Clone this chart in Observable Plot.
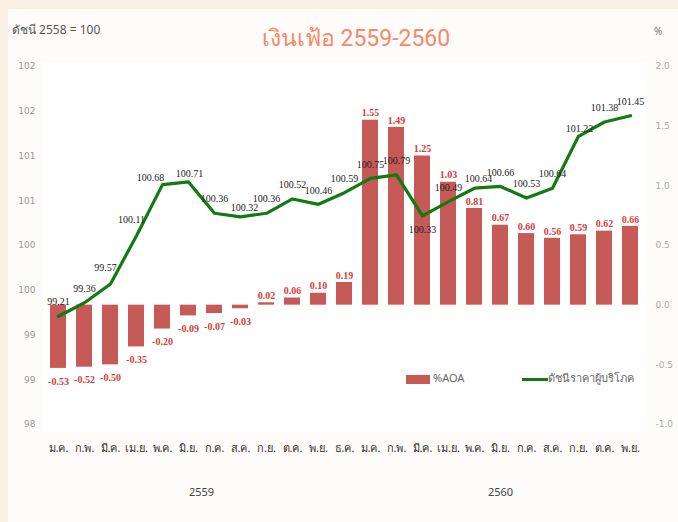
<!DOCTYPE html>
<html>
<head>
<meta charset="utf-8">
<script src="https://cdn.jsdelivr.net/npm/d3@7"></script>
<script src="https://cdn.jsdelivr.net/npm/@observablehq/plot@0.6"></script>
<style>
  html, body { margin: 0; padding: 0; background: #f8efe2; }
  #wrap { position: relative; width: 678px; height: 522px; overflow: hidden; }
  #panel { position: absolute; left: 8px; top: 9px; width: 670px; height: 513px; background: #fdfcfa; }
  #inner { position: absolute; left: 43px; top: 62px; width: 603px; height: 370px; background: #ffffff; }
  #chart { position: absolute; left: 0; top: 0; }
  .ov { position: absolute; font-family: "Noto Sans", "DejaVu Sans", sans-serif; color: #555; white-space: nowrap; }
  #title { left: 0; width: 712px; top: 20px; text-align: center; font-family: "Liberation Sans Narrow", "Roboto", sans-serif; font-size: 23px; font-weight: normal; color: #f4896b; }
  #unitL { left: 12px; top: 20px; font-size: 12px; color: #555; }
  #unitR { left: 654px; top: 24px; font-size: 10px; color: #777; }
  #legend { left: 406px; top: 369px; font-size: 11px; color: #666; }
  .sw { display: inline-block; vertical-align: middle; }
</style>
</head>
<body>
<div id="wrap">
  <div id="panel"></div>
  <div id="inner"></div>
  <div id="chart"></div>
  <div class="ov" id="title">เงินเฟ้อ 2559-2560</div>
  <div class="ov" id="unitL">ดัชนี 2558 = 100</div>
  <div class="ov" id="unitR">%</div>
  <div class="ov" id="legend">
    <span class="sw" style="width:24px;height:9px;background:#c55a57;"></span><span style="margin-left:3px;">%AOA</span>
    <span class="sw" style="width:26px;height:3px;background:#137a13;margin-left:55px;"></span><span>ดัชนีราคาผู้บริโภค</span>
  </div>
</div>
<script>
// ---- data ----
const months2559 = ["ม.ค.", "ก.พ.", "มี.ค.", "เม.ย.", "พ.ค.", "มิ.ย.", "ก.ค.", "ส.ค.", "ก.ย.", "ต.ค.", "พ.ย.", "ธ.ค."];
const months2560 = ["ม.ค.", "ก.พ.", "มี.ค.", "เม.ย.", "พ.ค.", "มิ.ย.", "ก.ค.", "ส.ค.", "ก.ย.", "ต.ค.", "พ.ย."];
const years = ["2559", "2560"];
const cpiIndex = [99.21, 99.36, 99.57, 100.11, 100.68, 100.71, 100.36, 100.32, 100.36, 100.52, 100.46, 100.59,
                  100.75, 100.79, 100.33, 100.49, 100.64, 100.66, 100.53, 100.64, 101.22, 101.38, 101.45];
const yoy = [-0.53, -0.52, -0.50, -0.35, -0.20, -0.09, -0.07, -0.03, 0.02, 0.06, 0.10, 0.19,
             1.55, 1.49, 1.25, 1.03, 0.81, 0.67, 0.60, 0.56, 0.59, 0.62, 0.66];
const leftTicks = [98, 98.5, 99, 99.5, 100, 100.5, 101, 101.5, 102];
const rightTicks = [-1.0, -0.5, 0.0, 0.5, 1.0, 1.5, 2.0];

// ---- build ----
const monthLabels = months2559.concat(months2560);
const idx = monthLabels.map((_, i) => i);
// right axis (%) mapped onto left (index) scale: -1 -> 98, 2 -> 102
const toLeft = v => 98 + (v + 1) * 4 / 3;
const toRight = t => {
  const r = Math.round(((t - 98) * 0.75 - 1) * 10) / 10;
  return (r === 0 ? 0 : r).toFixed(1);
};
const rows = idx.map(i => ({i, m: monthLabels[i], cpi: cpiIndex[i], yoy: yoy[i]}));

// label placement groups for the index line (Excel-like placements)
const placements = [
  {ids: [2, 3], dx: -5, dy: -16},
  {ids: [4], dx: -12, dy: -7},
  {ids: [5, 20], dx: 1, dy: -8},
  {ids: [7, 16], dx: 4, dy: -9},
  {ids: [14], dx: 0, dy: 14}
];
const placed = new Set(placements.flatMap(p => p.ids));
const defaultRows = rows.filter(d => !placed.has(d.i));
const pos = rows.filter(d => d.yoy >= 0);
const neg = rows.filter(d => d.yoy < 0);

const lblFont = "Liberation Serif, DejaVu Serif, serif";
const uiFont = "Noto Sans, DejaVu Sans, sans-serif";

const cpiLabel = (data, dx, dy) => Plot.text(data, {x: "i", y: "cpi", text: d => d.cpi.toFixed(2), dx, dy,
                                                     fill: "#222", fontSize: 10, fontFamily: lblFont});

const chart = Plot.plot({
  width: 678,
  height: 522,
  marginLeft: 40,
  marginRight: 30,
  marginTop: 66,
  marginBottom: 98,
  style: {background: "transparent", overflow: "visible"},
  x: {type: "band", domain: idx, padding: 0.38, axis: null},
  y: {domain: [98, 102], axis: null},
  marks: [
    Plot.axisY({ticks: leftTicks, tickFormat: d => String(Math.round(d)), tickSize: 0, tickPadding: 5,
                anchor: "left", fontSize: 9, fill: "#999", fontFamily: "DejaVu Sans, sans-serif", label: null}),
    Plot.axisY({ticks: rightTicks.map(toLeft), tickFormat: toRight, tickSize: 0, tickPadding: 7,
                anchor: "right", fontSize: 9, fill: "#aaa", fontFamily: "DejaVu Sans, sans-serif", label: null}),
    Plot.axisX({tickFormat: i => monthLabels[i], tickSize: 0, tickPadding: 20, anchor: "bottom",
                fontSize: 11, fill: "#333", fontFamily: uiFont, label: null}),
    // year labels: 2559 centred over its 12 months, 2560 over its 11 months
    Plot.text([{year: years[0], at: 5}], {x: "at", text: "year", frameAnchor: "bottom", dx: 13, dy: 71,
                                          fontSize: 11, fill: "#444", fontFamily: uiFont}),
    Plot.text([{year: years[1], at: 17}], {x: "at", text: "year", frameAnchor: "bottom", dx: 0, dy: 71,
                                           fontSize: 11, fill: "#444", fontFamily: uiFont}),
    Plot.barY(rows, {x: "i", y1: toLeft(0), y2: d => toLeft(d.yoy), fill: "#c55a57"}),
    Plot.text(pos, {x: "i", y: d => toLeft(d.yoy), text: d => d.yoy.toFixed(2),
                    dy: -7, fill: "#d63c3c", fontSize: 10, fontWeight: "bold", fontFamily: lblFont}),
    Plot.text(neg, {x: "i", y: d => toLeft(d.yoy), text: d => d.yoy.toFixed(2),
                    dy: 13, fill: "#d63c3c", fontSize: 10, fontWeight: "bold", fontFamily: lblFont}),
    Plot.line(rows, {x: "i", y: "cpi", stroke: "#137a13", strokeWidth: 3.2, curve: "linear"}),
    cpiLabel(defaultRows, 0, -14),
    ...placements.map(p => cpiLabel(rows.filter(d => p.ids.includes(d.i)), p.dx, p.dy))
  ]
});
document.getElementById("chart").appendChild(chart);
</script>
</body>
</html>
